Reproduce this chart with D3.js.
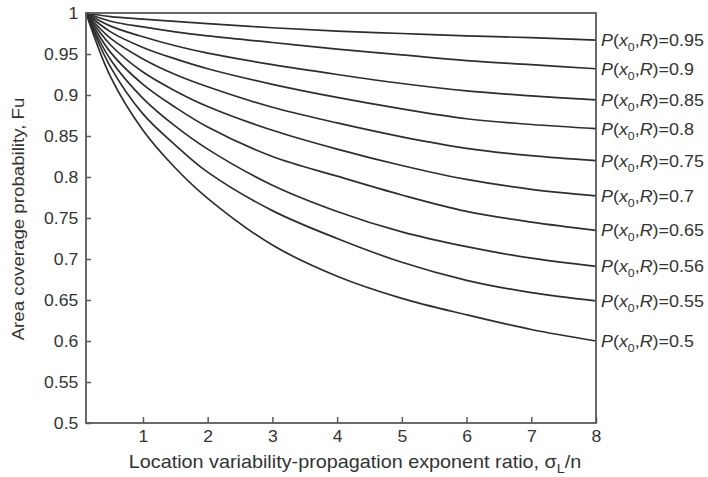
<!DOCTYPE html>
<html>
<head>
<meta charset="utf-8">
<script src="https://cdn.jsdelivr.net/npm/d3@7"></script>
<style>
  body { margin: 0; background: #fff; }
  text { font-family: "Liberation Sans", Arial, sans-serif; fill: #333; }
</style>
</head>
<body>
<svg id="chart" width="708" height="477"></svg>
<script>
// σL/n sample positions shared by every curve
const ratios = [0.12, 0.5, 1, 1.5, 2, 3, 4, 5, 6, 7, 8];

// Area coverage probability Fu for each boundary probability P(x0,R)
const fu095 = [1, 0.9955, 0.9925, 0.9897, 0.987, 0.982, 0.978, 0.975, 0.972, 0.970, 0.967];
const fu090 = [1, 0.990, 0.983, 0.977, 0.972, 0.964, 0.956, 0.949, 0.942, 0.937, 0.932];
const fu085 = [1, 0.984, 0.971, 0.960, 0.951, 0.937, 0.925, 0.914, 0.905, 0.899, 0.894];
const fu080 = [1, 0.977, 0.958, 0.944, 0.932, 0.913, 0.897, 0.883, 0.871, 0.864, 0.859];
const fu075 = [1, 0.969, 0.944, 0.925, 0.910, 0.885, 0.866, 0.849, 0.835, 0.826, 0.820];
const fu070 = [1, 0.961, 0.928, 0.905, 0.886, 0.857, 0.834, 0.814, 0.797, 0.785, 0.777];
const fu065 = [1, 0.952, 0.913, 0.885, 0.861, 0.825, 0.801, 0.778, 0.758, 0.745, 0.735];
const fu056 = [1, 0.943, 0.896, 0.862, 0.834, 0.790, 0.758, 0.733, 0.715, 0.701, 0.691];
const fu055 = [1, 0.934, 0.877, 0.839, 0.806, 0.759, 0.725, 0.696, 0.674, 0.659, 0.649];
const fu050 = [1, 0.922, 0.857, 0.811, 0.774, 0.717, 0.679, 0.652, 0.632, 0.614, 0.600];

const curveLabels = ["0.95", "0.9", "0.85", "0.8", "0.75", "0.7", "0.65", "0.56", "0.55", "0.5"];
const curveValues = [fu095, fu090, fu085, fu080, fu075, fu070, fu065, fu056, fu055, fu050];

const xTicks = [1, 2, 3, 4, 5, 6, 7, 8];
const yTicks = [0.5, 0.55, 0.6, 0.65, 0.7, 0.75, 0.8, 0.85, 0.9, 0.95, 1];
const yTickLabels = ["0.5", "0.55", "0.6", "0.65", "0.7", "0.75", "0.8", "0.85", "0.9", "0.95", "1"];

const svg = d3.select("#chart");
const plot = { left: 86, right: 596, top: 13, bottom: 423 };
const stretch = 1.1; // lettering is set slightly wide

const x = d3.scaleLinear().domain([0.12, 8]).range([plot.left, plot.right]);
const y = d3.scaleLinear().domain([0.5, 1]).range([plot.bottom, plot.top]);

const frameColor = "#5a5a5a";

// Left axis with inward ticks
const yAxis = d3.axisLeft(y)
  .tickValues(yTicks)
  .tickFormat((d, i) => yTickLabels[i])
  .tickSizeInner(-5)
  .tickSizeOuter(0)
  .tickPadding(7);
const gy = svg.append("g").attr("transform", `translate(${plot.left},0)`).call(yAxis);
gy.select(".domain").remove();
gy.selectAll(".tick line").attr("stroke", frameColor).attr("stroke-width", 1.5);
gy.selectAll(".tick text").attr("font-size", 16).attr("fill", "#333")
  .attr("font-family", "Liberation Sans, Arial, sans-serif")
  .attr("transform", `scale(${stretch},1)`);

// Bottom axis with inward ticks
const xAxis = d3.axisBottom(x)
  .tickValues(xTicks)
  .tickFormat(d3.format("d"))
  .tickSizeInner(-6)
  .tickSizeOuter(0)
  .tickPadding(8);
const gx = svg.append("g").attr("transform", `translate(0,${plot.bottom})`).call(xAxis);
gx.select(".domain").remove();
gx.selectAll(".tick line").attr("stroke", frameColor).attr("stroke-width", 1.5);
gx.selectAll(".tick text").attr("font-size", 16).attr("fill", "#333")
  .attr("font-family", "Liberation Sans, Arial, sans-serif")
  .attr("transform", `scale(${stretch},1)`);

// Curves
const line = d3.line()
  .x((d, i) => x(ratios[i]))
  .y(d => y(d))
  .curve(d3.curveCatmullRom.alpha(0.5));

svg.append("g")
  .selectAll("path")
  .data(curveValues)
  .join("path")
  .attr("d", d => line(d))
  .attr("fill", "none")
  .attr("stroke", "#2e2e2e")
  .attr("stroke-width", 1.7);

// Plot frame
svg.append("rect")
  .attr("x", plot.left).attr("y", plot.top)
  .attr("width", plot.right - plot.left).attr("height", plot.bottom - plot.top)
  .attr("fill", "none").attr("stroke", frameColor).attr("stroke-width", 1.8);

// Curve labels at the right end
const labels = svg.append("g")
  .selectAll("text")
  .data(curveLabels)
  .join("text")
  .attr("transform", (d, i) =>
    `translate(${plot.right + 5},${y(curveValues[i][curveValues[i].length - 1]) + 6}) scale(${stretch + 0.02},1)`)
  .attr("font-size", 16);

labels.each(function (d) {
  const t = d3.select(this);
  t.append("tspan").attr("font-style", "italic").text("P");
  t.append("tspan").text("(");
  t.append("tspan").attr("font-style", "italic").text("x");
  t.append("tspan").attr("font-size", 11).attr("dy", 5).text("0");
  t.append("tspan").attr("dy", -5).text(",");
  t.append("tspan").attr("font-style", "italic").text("R");
  t.append("tspan").text(")=" + d);
});

// Axis titles
svg.append("text")
  .attr("transform", `translate(24,${(plot.top + plot.bottom) / 2 + 1}) rotate(-90) scale(${stretch},1)`)
  .attr("text-anchor", "middle")
  .attr("font-size", 17)
  .text("Area coverage probability, Fu");

const xt = svg.append("text")
  .attr("transform", `translate(355,468) scale(${stretch},1)`)
  .attr("text-anchor", "middle")
  .attr("font-size", 18);
xt.append("tspan").text("Location variability-propagation exponent ratio, σ");
xt.append("tspan").attr("font-size", 13).attr("dy", 5).text("L");
xt.append("tspan").attr("dy", -5).text("/n");
</script>
</body>
</html>
